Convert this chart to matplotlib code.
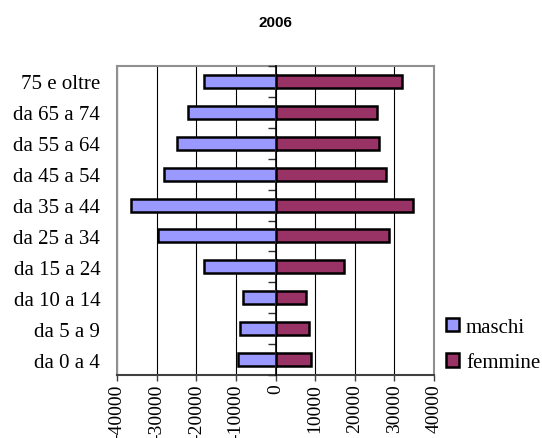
import numpy as np
import matplotlib
matplotlib.use("Agg")
import matplotlib.pyplot as plt
from matplotlib.patches import Patch

# ----------- data ---------
eta     = ['da 0 a 4', 'da 5 a 9', 'da 10 a 14', 'da 15 a 24', 'da 25 a 34',
           'da 35 a 44', 'da 45 a 54', 'da 55 a 64', 'da 65 a 74', '75 e oltre']
maschi  = [9400, 8900, 8200, 18100, 29600, 36500, 28100, 24900, 22100, 18000]
femmine = [9000, 8400, 7700, 17200, 28700, 34700, 27900, 26100, 25600, 32000]
xticks  = [-40000, -30000, -20000, -10000, 0, 10000, 20000, 30000, 40000]

serif = 'Liberation Serif'
c_m = '#9999FF'
c_f = '#993366'

fig = plt.figure(figsize=(5.42, 4.39), dpi=100)
ax = fig.add_axes([117/542, (439-376)/439, (434-117)/542, (376-67)/439])

y = np.arange(len(eta))
ax.barh(y, -np.array(maschi), height=0.42, color=c_m, edgecolor='black', linewidth=1.8, zorder=3)
ax.barh(y, femmine, height=0.42, color=c_f, edgecolor='black', linewidth=1.8, zorder=3)

ax.set_xlim(-40000, 40000)
ax.set_ylim(-0.5, len(eta) - 0.5)
ax.set_xticks(xticks)
ax.set_xticklabels([str(v) for v in xticks], rotation=90, fontfamily=serif, fontsize=14)
ax.tick_params(axis='x', length=4, width=1, color='#404040', pad=2)
ax.xaxis.grid(True, color='black', linewidth=0.8, zorder=0)

ax.set_yticks(y)
ax.set_yticklabels(eta, fontfamily=serif, fontsize=15)
ax.tick_params(axis='y', length=0, pad=12)

for s in ['left', 'top', 'right']:
    ax.spines[s].set_color('#909090')
    ax.spines[s].set_linewidth(1.5)
ax.spines['bottom'].set_color('#404040')
ax.spines['bottom'].set_linewidth(1.5)

# category axis sitting on zero
sec = ax.secondary_yaxis(0.5)
sec.set_yticks(np.arange(len(eta) + 1) - 0.5)
sec.set_yticklabels([])
sec.tick_params(axis='y', length=6, width=1, color='#303030', direction='in')
for s in sec.spines.values():
    s.set_color('black')
    s.set_linewidth(1.2)
sec.set_zorder(4)

fig.text(0.509, 0.947, '2006', ha='center', va='center', fontfamily='Liberation Sans',
         fontweight='bold', fontsize=11)

handles = [Patch(facecolor=c_m, edgecolor='black', linewidth=1.8, label='maschi'),
           Patch(facecolor=c_f, edgecolor='black', linewidth=1.8, label='femmine')]
fig.legend(handles=handles, loc='center left', bbox_to_anchor=(0.808, 0.212),
           frameon=False, prop={'family': serif, 'size': 15}, handlelength=0.6,
           handleheight=0.6, handletextpad=0.35, labelspacing=0.8, borderaxespad=0)

fig.savefig('out.png', dpi=100)
